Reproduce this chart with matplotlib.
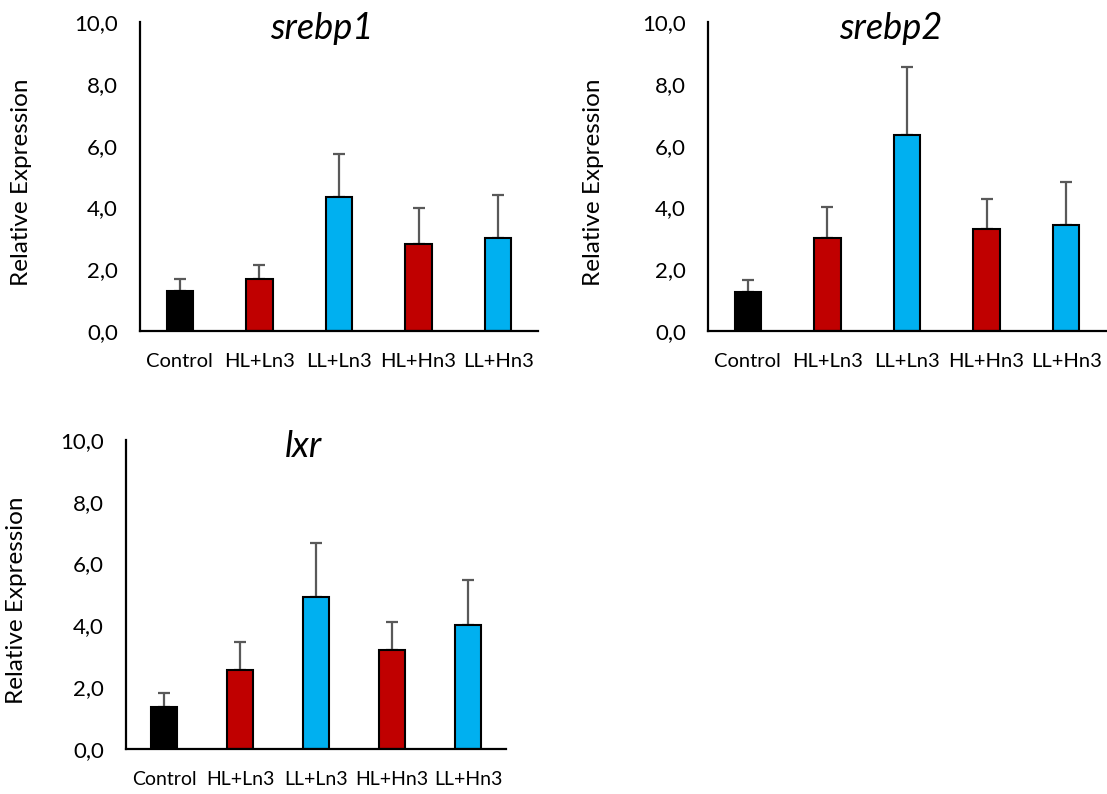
# plot.py
# Run: python3 plot.py

import matplotlib.pyplot as plt

plt.rcParams["font.family"] = ["Lato", "DejaVu Sans"]

groups = ["Control", "HL+Ln3", "LL+Ln3", "HL+Hn3", "LL+Hn3"]
bar_colors = ["#000000", "#C00000", "#00B0F0", "#C00000", "#00B0F0"]

srebp1_mean = [1.31, 1.67, 4.33, 2.82, 3.00]
srebp1_err = [0.39, 0.47, 1.41, 1.16, 1.42]

srebp2_mean = [1.27, 3.00, 6.34, 3.29, 3.43]
srebp2_err = [0.38, 1.02, 2.22, 0.99, 1.39]

lxr_mean = [1.34, 2.54, 4.91, 3.21, 4.02]
lxr_err = [0.47, 0.93, 1.74, 0.89, 1.46]

y_ticks = [0, 2, 4, 6, 8, 10]
W, H = 1107, 794


def px_axes(fig, left, right, top, bottom):
    return fig.add_axes([left / W, 1 - bottom / H, (right - left) / W, (bottom - top) / H])


def draw_panel(ax, means, errs, title, title_x, xfont):
    x = range(len(groups))
    ax.bar(x, means, width=0.33, color=bar_colors, edgecolor="black", linewidth=1.5,
           zorder=2)
    ax.errorbar(x, means, yerr=[[0] * len(errs), errs], fmt="none", ecolor="#595959",
                elinewidth=1.6, capsize=4.5, capthick=1.6, zorder=1)
    ax.set_xlim(-0.5, len(groups) - 0.5)
    ax.set_ylim(0, 10)
    ax.set_yticks(y_ticks)
    ax.set_yticklabels([f"{v:.1f}".replace(".", ",") for v in y_ticks], fontsize=16)
    ax.set_xticks(list(x))
    ax.set_xticklabels(groups, fontsize=xfont)
    ax.tick_params(axis="y", length=0, pad=16)
    ax.tick_params(axis="x", length=0, pad=16)
    for side in ["top", "right"]:
        ax.spines[side].set_visible(False)
    for side in ["left", "bottom"]:
        ax.spines[side].set_linewidth(1.6)
    ax.text(title_x, 0.98, title, transform=ax.transAxes, ha="center", va="center",
            fontsize=26, style="italic")


fig = plt.figure(figsize=(W / 100, H / 100), dpi=100)

ax1 = px_axes(fig, 140, 538, 22.3, 331)
draw_panel(ax1, srebp1_mean, srebp1_err, "srebp1", 0.457, 14.5)
fig.text(22 / W, 1 - 182 / H, "Relative Expression", rotation=90, ha="center",
         va="center", fontsize=17.5)

ax2 = px_axes(fig, 708, 1106, 22.3, 331)
draw_panel(ax2, srebp2_mean, srebp2_err, "srebp2", 0.46, 14.5)
fig.text(593 / W, 1 - 182 / H, "Relative Expression", rotation=90, ha="center",
         va="center", fontsize=17.5)

ax3 = px_axes(fig, 126, 506, 440, 748.7)
draw_panel(ax3, lxr_mean, lxr_err, "lxr", 0.468, 14)
fig.text(17 / W, 1 - 600 / H, "Relative Expression", rotation=90, ha="center",
         va="center", fontsize=17.5)

plt.savefig("out.png", dpi=100)
